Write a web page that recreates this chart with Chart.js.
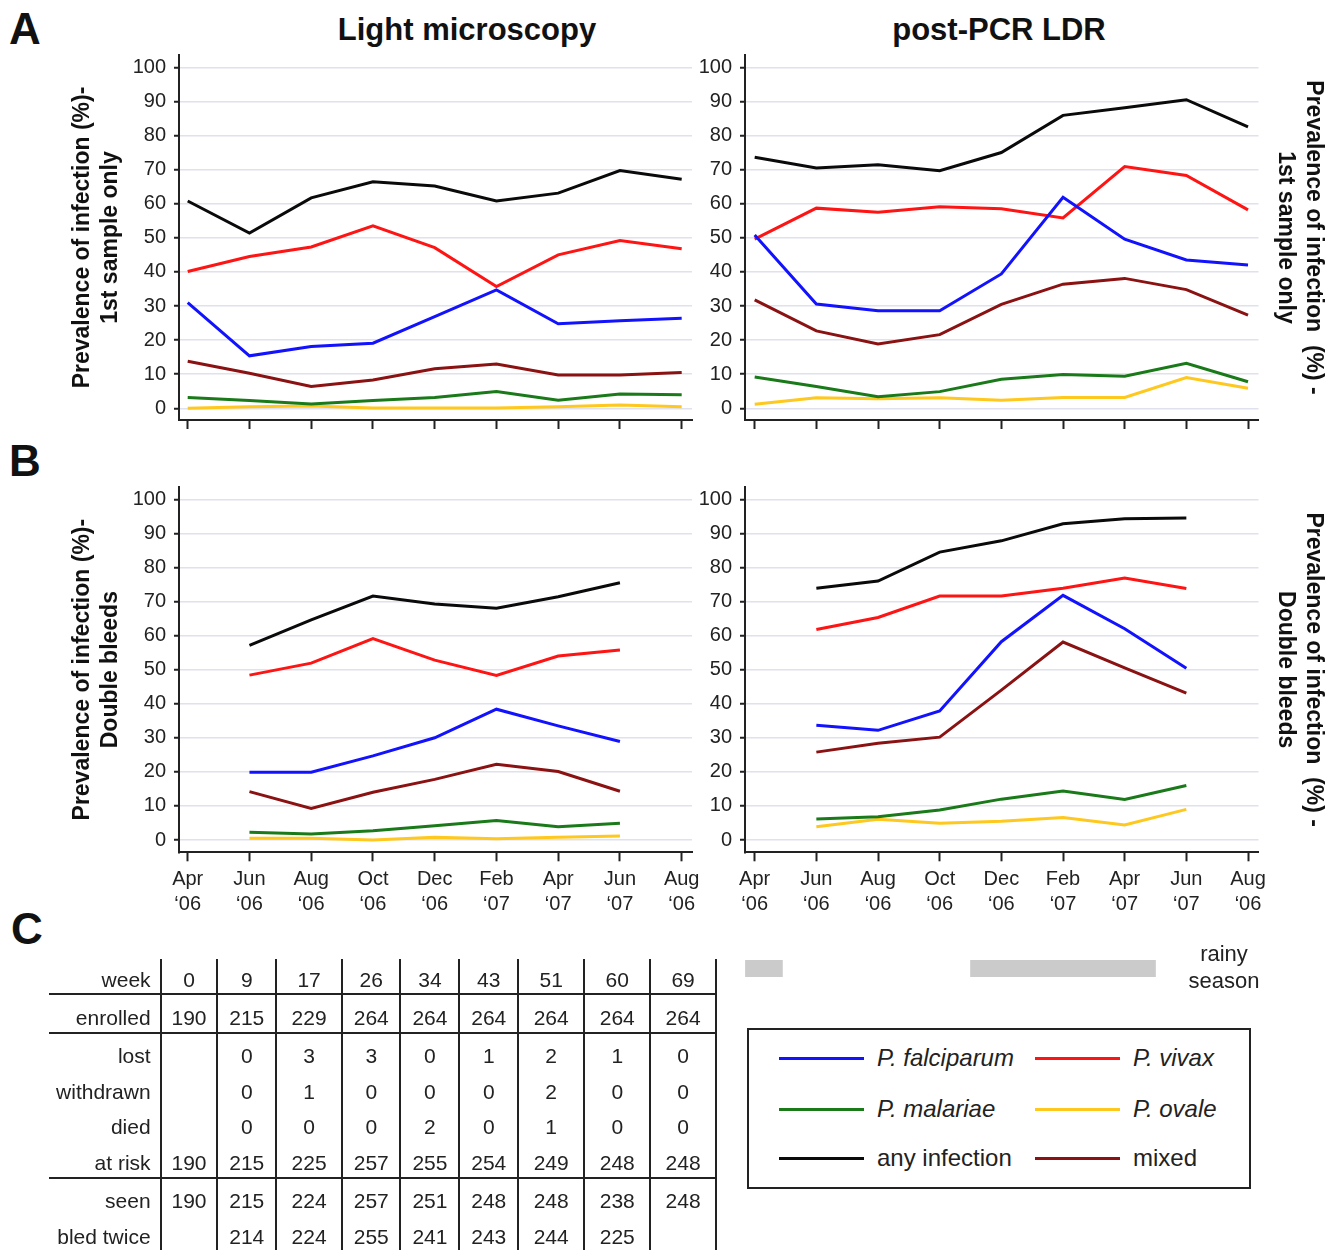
<!DOCTYPE html>
<html lang="en">
<head>
<meta charset="UTF-8" />
<title>Prevalence of infection</title>
<script src="https://cdn.jsdelivr.net/npm/chart.js"></script>
<style>
  body { margin: 0; background: #fff; font-family: 'Liberation Sans', Arial, sans-serif; color: #111; }
  #page { position: relative; width: 1335px; height: 1250px; overflow: hidden; }
  canvas { position: absolute; }
  .abs { position: absolute; }
  .letter { font-size: 44px; font-weight: bold; line-height: 44px; }
  .title { font-size: 31px; font-weight: bold; line-height: 31px; width: 400px; text-align: center; }
  #rainy { left: 1164px; top: 940px; width: 120px; text-align: center; font-size: 22px; line-height: 27px; color: #222; }

  #tbl { position: absolute; left: 49px; top: 959px; border-collapse: collapse; table-layout: fixed; width: 667px;
         font-size: 21px; color: #222; }
  #tbl td { padding: 8px 0 0 0; text-align: center; vertical-align: middle; white-space: nowrap; }
  #tbl td.lab { text-align: right; padding-right: 9px; }
  #tbl td.num { border-left: 2px solid #222; }
  #tbl td.last { border-right: 2px solid #222; }
  #tbl tr.sep td { border-bottom: 2px solid #222; }

  #legend { position: absolute; left: 747px; top: 1028px; width: 500px; height: 157px; border: 2px solid #222; }
  .item { position: absolute; height: 24px; display: flex; align-items: center; font-size: 24px; line-height: 24px; color: #222; }
  .item .swatch { width: 85px; height: 3px; margin-right: 13px; }
</style>
</head>
<body>
<div id="page">
  <div class="abs letter" style="left:9px; top:7px;">A</div>
  <div class="abs letter" style="left:9px; top:439px;">B</div>
  <div class="abs letter" style="left:11px; top:907px;">C</div>
  <div class="abs title" style="left:267px; top:14px;">Light microscopy</div>
  <div class="abs title" style="left:799px; top:14px;">post-PCR LDR</div>

  <canvas id="lmFirst" width="720" height="440" style="left:0; top:0;"></canvas>
  <canvas id="ldrFirst" width="655" height="440" style="left:680px; top:0;"></canvas>
  <canvas id="lmDouble" width="720" height="480" style="left:0; top:440px;"></canvas>
  <canvas id="ldrDouble" width="655" height="480" style="left:680px; top:440px;"></canvas>
  <canvas id="rainyBars" width="655" height="17" style="left:680px; top:960px;"></canvas>

  <div id="rainy" class="abs">rainy<br>season</div>
  <table id="tbl"></table>
  <div id="legend"></div>
</div>

<script>
  // x axis: survey months
  const months = ['Apr', 'Jun', 'Aug', 'Oct', 'Dec', 'Feb', 'Apr', 'Jun', 'Aug'];
  const years = ['\u201806', '\u201806', '\u201806', '\u201806', '\u201806', '\u201807', '\u201807', '\u201807', '\u201806'];
  const yTicks = [0, 10, 20, 30, 40, 50, 60, 70, 80, 90, 100];

  const seriesNames = ['P. falciparum', 'P. vivax', 'P. malariae', 'P. ovale', 'any infection', 'mixed'];
  const seriesItalic = [true, true, true, true, false, false];
  const seriesColors = ['#1212ff', '#ff1414', '#1a7a1a', '#ffc81e', '#0a0a0a', '#8a1212'];

  // A - light microscopy, 1st sample only
  const lmFirstFalciparum = [31.0, 15.4, 18.1, 19.1, 26.9, 34.7, 24.8, 25.7, 26.4];
  const lmFirstVivax      = [40.1, 44.5, 47.3, 53.5, 47.1, 35.7, 45.0, 49.2, 46.8];
  const lmFirstMalariae   = [3.2, 2.3, 1.3, 2.3, 3.2, 4.9, 2.4, 4.2, 4.0];
  const lmFirstOvale      = [0.0, 0.5, 0.7, 0.1, 0.1, 0.1, 0.5, 1.0, 0.5];
  const lmFirstAny        = [60.8, 51.4, 61.7, 66.4, 65.2, 60.8, 63.1, 69.7, 67.2];
  const lmFirstMixed      = [13.8, 10.3, 6.4, 8.3, 11.6, 13.0, 9.8, 9.8, 10.5];

  // A - post-PCR LDR, 1st sample only
  const ldrFirstFalciparum = [50.8, 30.6, 28.6, 28.6, 39.4, 61.9, 49.6, 43.5, 42.0];
  const ldrFirstVivax      = [49.6, 58.7, 57.5, 59.1, 58.5, 55.8, 70.9, 68.3, 58.2];
  const ldrFirstMalariae   = [9.2, 6.4, 3.4, 4.9, 8.5, 9.9, 9.4, 13.2, 7.8];
  const ldrFirstOvale      = [1.2, 3.1, 2.8, 3.1, 2.4, 3.2, 3.2, 9.0, 5.9];
  const ldrFirstAny        = [73.6, 70.5, 71.4, 69.7, 75.0, 85.9, 88.1, 90.5, 82.5];
  const ldrFirstMixed      = [31.8, 22.7, 18.9, 21.6, 30.5, 36.4, 38.1, 34.8, 27.3];

  // B - light microscopy, double bleeds
  const lmDoubleFalciparum = [null, 19.9, 19.9, 24.7, 30.0, 38.4, 33.5, 28.9, null];
  const lmDoubleVivax      = [null, 48.4, 51.9, 59.1, 52.8, 48.3, 54.0, 55.8, null];
  const lmDoubleMalariae   = [null, 2.3, 1.8, 2.7, 4.2, 5.7, 3.9, 4.9, null];
  const lmDoubleOvale      = [null, 0.5, 0.5, 0.0, 0.8, 0.4, 0.8, 1.2, null];
  const lmDoubleAny        = [null, 57.1, 64.6, 71.6, 69.3, 68.0, 71.4, 75.5, null];
  const lmDoubleMixed      = [null, 14.2, 9.3, 14.0, 17.8, 22.2, 20.1, 14.3, null];

  // B - post-PCR LDR, double bleeds
  const ldrDoubleFalciparum = [null, 33.7, 32.2, 37.9, 58.2, 71.8, 62.0, 50.4, null];
  const ldrDoubleVivax      = [null, 61.8, 65.3, 71.6, 71.6, 73.9, 76.9, 73.8, null];
  const ldrDoubleMalariae   = [null, 6.2, 6.8, 8.8, 12.0, 14.4, 11.9, 16.0, null];
  const ldrDoubleOvale      = [null, 3.9, 6.1, 4.9, 5.5, 6.6, 4.4, 9.0, null];
  const ldrDoubleAny        = [null, 73.9, 76.0, 84.5, 87.8, 92.8, 94.3, 94.5, null];
  const ldrDoubleMixed      = [null, 25.8, 28.4, 30.2, 44.0, 58.1, 50.5, 43.1, null];

  // rainy season, in survey-interval units on the same x axis
  const rainyPeriods = [[-0.15, 0.45], [3.5, 6.5]];

  // C - follow-up table
  const weeks     = [0, 9, 17, 26, 34, 43, 51, 60, 69];
  const enrolled  = [190, 215, 229, 264, 264, 264, 264, 264, 264];
  const lost      = ['', 0, 3, 3, 0, 1, 2, 1, 0];
  const withdrawn = ['', 0, 1, 0, 0, 0, 2, 0, 0];
  const died      = ['', 0, 0, 0, 2, 0, 1, 0, 0];
  const atRisk    = [190, 215, 225, 257, 255, 254, 249, 248, 248];
  const seen      = [190, 215, 224, 257, 251, 248, 248, 238, 248];
  const bledTwice = ['', 214, 224, 255, 241, 243, 244, 225, ''];

  Chart.defaults.font.family = "'Liberation Sans', Arial, sans-serif";
  Chart.defaults.color = '#222';

  function makePanel(id, series, cfg) {
    const datasets = series.map((vals, k) => ({
      label: seriesNames[k],
      data: vals.map((v, i) => ({ x: i, y: v })),
      borderColor: seriesColors[k],
      borderWidth: 3,
      pointRadius: 0,
      tension: 0,
      fill: false,
      spanGaps: false
    }));

    const scales = {
      x: {
        type: 'linear',
        min: cfg.xMin,
        max: cfg.xMax,
        afterBuildTicks: axis => { axis.ticks = months.map((m, i) => ({ value: i })); },
        afterFit: axis => { axis.height = cfg.xHeight; },
        grid: { drawOnChartArea: false, drawTicks: true, tickLength: 9, tickColor: '#222', tickWidth: 2 },
        border: { display: true, color: '#222', width: 2 },
        ticks: {
          display: cfg.showX,
          autoSkip: false,
          maxRotation: 0,
          padding: 6,
          font: { size: 20, lineHeight: 1.25 },
          color: '#222',
          callback: (v, i) => [months[i], years[i]]
        }
      },
      y: {
        type: 'linear',
        position: 'left',
        min: cfg.yMin,
        max: cfg.yMax,
        afterBuildTicks: axis => { axis.ticks = yTicks.map(v => ({ value: v })); },
        afterFit: axis => { axis.width = cfg.yWidth; },
        grid: { color: '#dfe2ee', lineWidth: 1.5, drawTicks: true, tickLength: 5, tickColor: '#222', tickWidth: 2 },
        border: { display: true, color: '#222', width: 2 },
        ticks: { padding: 8, font: { size: 20 }, color: '#222' },
        title: {
          display: !!cfg.leftTitle,
          text: cfg.leftTitle || '',
          color: '#111',
          font: { size: 23, weight: 'bold' },
          padding: { top: 69, bottom: 0 }
        }
      }
    };

    if (cfg.rightTitle) {
      scales.y2 = {
        type: 'linear',
        position: 'right',
        afterFit: axis => { axis.width = cfg.rightWidth; },
        grid: { display: false },
        border: { display: false },
        ticks: { display: false },
        title: {
          display: true,
          text: cfg.rightTitle,
          color: '#111',
          font: { size: 23, weight: 'bold' },
          padding: { top: 8, bottom: 0 }
        }
      };
    }

    new Chart(document.getElementById(id), {
      type: 'line',
      data: { datasets },
      options: {
        responsive: false,
        animation: false,
        events: [],
        layout: { padding: cfg.padding },
        plugins: { legend: { display: false }, tooltip: { enabled: false } },
        scales
      }
    });
  }

  makePanel('lmFirst',
    [lmFirstFalciparum, lmFirstVivax, lmFirstMalariae, lmFirstOvale, lmFirstAny, lmFirstMixed],
    { xMin: -0.141, xMax: 8.167, yMin: -3.42, yMax: 103.6, yWidth: 179, xHeight: 19.3, showX: false,
      padding: { top: 55, right: 28, left: 0, bottom: 0 },
      leftTitle: ['Prevalence of infection (%)-', '1st sample only'] });

  makePanel('ldrFirst',
    [ldrFirstFalciparum, ldrFirstVivax, ldrFirstMalariae, ldrFirstOvale, ldrFirstAny, ldrFirstMixed],
    { xMin: -0.157, xMax: 8.17, yMin: -3.42, yMax: 103.6, yWidth: 65, xHeight: 19.3, showX: false,
      padding: { top: 55, right: 0, left: 0, bottom: 0 }, rightWidth: 76.5,
      rightTitle: ['Prevalence of infection  (%) -', '1st sample only'] });

  makePanel('lmDouble',
    [lmDoubleFalciparum, lmDoubleVivax, lmDoubleMalariae, lmDoubleOvale, lmDoubleAny, lmDoubleMixed],
    { xMin: -0.141, xMax: 8.167, yMin: -3.6, yMax: 103.6, yWidth: 179, xHeight: 67.7, showX: true,
      padding: { top: 47, right: 28, left: 0, bottom: 0 },
      leftTitle: ['Prevalence of infection (%)-', 'Double bleeds'] });

  makePanel('ldrDouble',
    [ldrDoubleFalciparum, ldrDoubleVivax, ldrDoubleMalariae, ldrDoubleOvale, ldrDoubleAny, ldrDoubleMixed],
    { xMin: -0.157, xMax: 8.17, yMin: -3.6, yMax: 103.6, yWidth: 65, xHeight: 67.7, showX: true,
      padding: { top: 47, right: 0, left: 0, bottom: 0 }, rightWidth: 76.5,
      rightTitle: ['Prevalence of infection  (%) -', 'Double bleeds'] });

  // rainy season bars on the LDR x axis
  new Chart(document.getElementById('rainyBars'), {
    type: 'bar',
    data: {
      labels: ['rainy season'],
      datasets: rainyPeriods.map(p => ({
        data: [p],
        backgroundColor: '#cbcbcb',
        borderWidth: 0,
        barPercentage: 1,
        categoryPercentage: 1,
        grouped: false
      }))
    },
    options: {
      indexAxis: 'y',
      responsive: false,
      animation: false,
      events: [],
      layout: { padding: { left: 65, right: 76.5, top: 0, bottom: 0 } },
      plugins: { legend: { display: false }, tooltip: { enabled: false } },
      scales: {
        x: { type: 'linear', min: -0.157, max: 8.17, display: false },
        y: { display: false }
      }
    }
  });

  // table C
  const tableRows = [
    ['week', weeks, 26, true],
    ['enrolled', enrolled, 29, true],
    ['lost', lost, 27.7, false],
    ['withdrawn', withdrawn, 27.7, false],
    ['died', died, 27.7, false],
    ['at risk', atRisk, 27.7, true],
    ['seen', seen, 28, false],
    ['bled twice', bledTwice, 28, false]
  ];
  const colWidths = [111.6, 56.8, 58.7, 66.1, 58.2, 59.1, 58.7, 66.1, 66.1, 65.6];
  const tbl = document.getElementById('tbl');
  const cg = document.createElement('colgroup');
  colWidths.forEach(w => {
    const c = document.createElement('col');
    c.style.width = w + 'px';
    cg.appendChild(c);
  });
  tbl.appendChild(cg);
  tableRows.forEach(([label, vals, h, sep]) => {
    const tr = document.createElement('tr');
    if (sep) tr.className = 'sep';
    const th = document.createElement('td');
    th.className = 'lab';
    th.textContent = label;
    th.style.height = h + 'px';
    tr.appendChild(th);
    vals.forEach((v, i) => {
      const td = document.createElement('td');
      td.className = 'num' + (i === vals.length - 1 ? ' last' : '');
      td.textContent = v;
      td.style.height = h + 'px';
      tr.appendChild(td);
    });
    tbl.appendChild(tr);
  });

  // legend
  const legendPos = [[30, 16], [286, 16], [30, 67], [286, 67], [30, 116], [286, 116]];
  const legend = document.getElementById('legend');
  seriesNames.forEach((name, k) => {
    const it = document.createElement('div');
    it.className = 'item';
    it.style.left = legendPos[k][0] + 'px';
    it.style.top = legendPos[k][1] + 'px';
    const sw = document.createElement('span');
    sw.className = 'swatch';
    sw.style.background = seriesColors[k];
    const tx = document.createElement('span');
    tx.textContent = name;
    if (seriesItalic[k]) tx.style.fontStyle = 'italic';
    it.appendChild(sw);
    it.appendChild(tx);
    legend.appendChild(it);
  });
</script>
</body>
</html>
